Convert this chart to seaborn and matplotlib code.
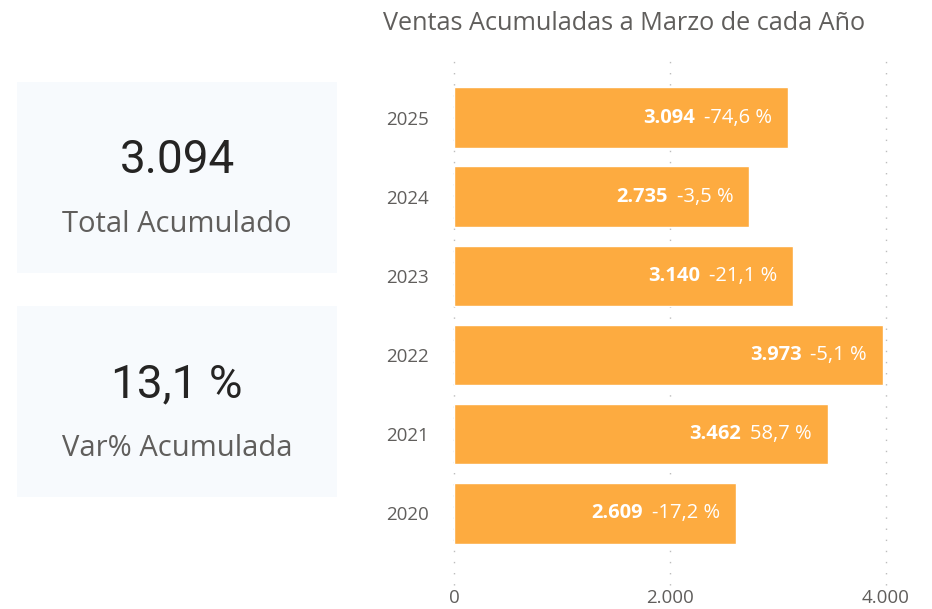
import matplotlib
matplotlib.use("Agg")
import matplotlib.pyplot as plt
import seaborn as sns
import pandas as pd
from matplotlib.patches import Rectangle

years = ["2025", "2024", "2023", "2022", "2021", "2020"]
ventas = [3094, 2735, 3140, 3973, 3462, 2609]
var_pct = ["-74,6 %", "-3,5 %", "-21,1 %", "-5,1 %", "58,7 %", "-17,2 %"]
kpi_values = ["3.094", "13,1 %"]
kpi_labels = ["Total Acumulado", "Var% Acumulada"]
title = "Ventas Acumuladas a Marzo de cada Año"
xticks = [0, 2000, 4000]

sns.set_theme(style="white")
plt.rcParams['font.family'] = ['Open Sans', 'DejaVu Sans']

W, H = 932, 609
fig = plt.figure(figsize=(W / 100, H / 100), dpi=100)
fig.patch.set_facecolor("white")

def fx(px):
    return px / W

def fy(py):
    return 1 - py / H

# KPI cards
cards = [(17, 82, 337, 273), (17, 306, 337, 497)]
for (x0, y0, x1, y1), val, lab in zip(cards, kpi_values, kpi_labels):
    fig.patches.append(Rectangle((fx(x0), fy(y1)), fx(x1 - x0), (y1 - y0) / H,
                                 transform=fig.transFigure, facecolor="#F7FAFD",
                                 edgecolor="none", zorder=0))
    cx = (x0 + x1) / 2
    fig.text(fx(cx), fy(y0 + 78), val, ha="center", va="center", fontsize=33,
             color="#252423", family=["Roboto", "DejaVu Sans"])
    fig.text(fx(cx), fy(y0 + 143), lab, ha="center", va="center", fontsize=21,
             color="#605E5C")

# Bar chart axes
ax_left, ax_right, ax_top, ax_bottom = 454, 886, 57, 585
ax = fig.add_axes([fx(ax_left), fy(ax_bottom), fx(ax_right - ax_left), (ax_bottom - ax_top) / H])
ax.set_facecolor("none")

df = pd.DataFrame({"year": years, "ventas": ventas})
sns.barplot(data=df, x="ventas", y="year", order=years, orient="h",
            color="#FDAB40", saturation=1, width=0.77, ax=ax, zorder=2)

ax.set_xlim(0, 4000)
ax.set_ylim(5.91, -0.77)
ax.set_xticks(xticks)
ax.set_xticklabels([f"{v:,}".replace(",", ".") for v in xticks])
for s in ax.spines.values():
    s.set_visible(False)
ax.tick_params(axis="both", length=0, labelsize=13.5, colors="#605E5C")
ax.tick_params(axis="y", pad=18)
ax.tick_params(axis="x", pad=3)
ax.set_xlabel("")
ax.set_ylabel("")
for xv in xticks:
    ax.axvline(xv, color="#BDBDBD", linestyle=(0, (1, 7)), linewidth=1, zorder=1,
               clip_on=False)

fig.text(fx(383), fy(23), title, ha="left", va="center", fontsize=18.2, color="#605E5C")

# Data labels inside bars
fig.canvas.draw()
r = fig.canvas.get_renderer()
px_per_pt = 100 / 72
for i, (v, p) in enumerate(zip(ventas, var_pct)):
    t = ax.annotate(p, xy=(v, i), xytext=(-16 / px_per_pt, 0), textcoords="offset points",
                    ha="right", va="center", fontsize=14.5, color="white", zorder=3)
    bb = t.get_window_extent(renderer=r)
    w = bb.width
    ax.annotate(f"{v:,}".replace(",", "."), xy=(v, i),
                xytext=(-(16 + w + 9) / px_per_pt, 0), textcoords="offset points",
                ha="right", va="center", fontsize=14.5, color="white",
                fontweight="bold", zorder=3)

fig.savefig("out.png", dpi=100, facecolor="white")
